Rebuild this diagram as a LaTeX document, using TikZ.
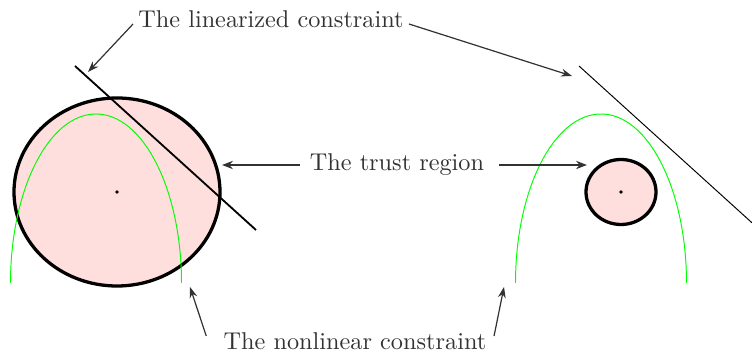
\documentclass[tikz,border=0pt]{standalone}
\usetikzlibrary{arrows.meta,shapes.geometric}
\definecolor{txt}{RGB}{50,50,50}
\definecolor{trfill}{RGB}{255,222,222}
\begin{document}
\begin{tikzpicture}[x=0.412pt,y=-0.412pt,
  lbl/.style={text=txt,inner sep=1pt,font=\normalsize},
  ptr/.style={draw=txt,line width=0.5pt,-{Stealth[length=4.5pt,width=3.2pt]}},
  ptrthick/.style={draw=txt,line width=0.85pt,-{Stealth[length=4.5pt,width=3.4pt]}},
  region/.style={draw=black,line width=1.35pt,fill=trfill},
  nlc/.style={draw=green,line width=0.4pt}]
\useasboundingbox (0,0) rectangle (752,351);
% trust regions
\draw[region] (117,192) ellipse [x radius=103,y radius=94];
\draw[region] (621,192) ellipse [x radius=35,y radius=32.5];
\fill (117,192) circle (1.9);
\fill (621,192) circle (1.9);
% nonlinear constraints
\draw[nlc] (10.5,283) arc [start angle=180,end angle=360,x radius=85.5,y radius=169];
\draw[nlc] (515.5,283) arc [start angle=180,end angle=360,x radius=85.5,y radius=169];
% linearized constraints
\coordinate (L1) at (75,66);
\coordinate (L2) at (256,230);
\coordinate (R1) at (579,66);
\coordinate (R2) at (752,222.8);
\draw[line width=0.75pt] (L1) -- (L2);
\draw[line width=0.4pt] (R1) -- (R2);
% labels
\node[lbl] (lin) at (271,19) {The linearized constraint};
\node[lbl] (tr) at (397,165) {The trust region};
\node[lbl] (nl) at (355,341) {The nonlinear constraint};
% arrow ends
\coordinate (a1) at (88,72);
\coordinate (a2) at (572,76);
\coordinate (b1) at (222,165);
\coordinate (b2) at (587,165);
\coordinate (c1) at (190,287);
\coordinate (c2) at (504,287);
\draw[ptr] ([xshift=-1]lin.west) ++(0,5) -- (a1);
\draw[ptr] ([xshift=1]lin.east) ++(0,5) -- (a2);
\draw[ptrthick] ([xshift=-3]tr.west) -- (b1);
\draw[ptrthick] ([xshift=5]tr.east) -- (b2);
\draw[ptr] ([xshift=-6]nl.west) ++(0,-5) -- (c1);
\draw[ptr] ([xshift=2]nl.east) ++(0,-5) -- (c2);
\end{tikzpicture}
\end{document}
